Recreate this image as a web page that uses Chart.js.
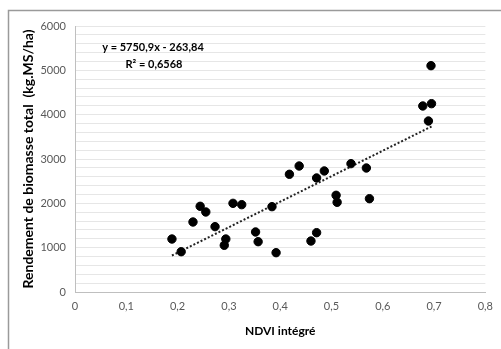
<!DOCTYPE html>
<html lang="fr">

<head>
    <meta charset="UTF-8">
    <title>NDVI intégré</title>
    <script src="https://cdnjs.cloudflare.com/ajax/libs/Chart.js/4.4.0/chart.umd.min.js"></script>
    <style>
        html, body {
            margin: 0;
            padding: 0;
            background: #ffffff;
        }

        .box {
            width: 501px;
            height: 349px;
        }
    </style>
</head>

<body>
    <div class="box">
        <canvas id="myChart" width="501" height="349"></canvas>
    </div>
    <script>
        // NDVI intégré (x) et rendement de biomasse (y)
        const ndvi = [0.189, 0.207, 0.230, 0.244, 0.255, 0.273, 0.291, 0.294, 0.308, 0.325,
            0.352, 0.357, 0.384, 0.392, 0.418, 0.437, 0.460, 0.471, 0.471, 0.486,
            0.509, 0.511, 0.538, 0.568, 0.574, 0.678, 0.689, 0.694, 0.695];
        const biomasse = [1195, 909, 1579, 1933, 1805, 1474, 1053, 1195, 2000, 1970,
            1354, 1135, 1925, 887, 2655, 2842, 1150, 1338, 2572, 2730,
            2181, 2023, 2895, 2797, 2105, 4196, 3857, 5105, 4248];

        // courbe de tendance (Excel)
        const pente = 5750.9;
        const ordonnee = -263.84;
        const equation = ['y = 5750,9x - 263,84', 'R² = 0,6568'];

        const xTickLabels = ['0', '0,1', '0,2', '0,3', '0,4', '0,5', '0,6', '0,7', '0,8'];
        const yTickLabels = ['0', '1000', '2000', '3000', '4000', '5000', '6000'];

        const xMin = Math.min(...ndvi);
        const xMax = Math.max(...ndvi);
        const tendance = [
            { x: xMin, y: pente * xMin + ordonnee },
            { x: xMax, y: pente * xMax + ordonnee }
        ];

        const font = 'Lato, "Open Sans", sans-serif';

        const cadre = {
            id: 'cadre',
            beforeDraw(chart) {
                const ctx = chart.ctx;
                ctx.save();
                ctx.fillStyle = '#ffffff';
                ctx.fillRect(0, 0, chart.width, chart.height);
                ctx.strokeStyle = '#9a9a9a';
                ctx.lineWidth = 1.5;
                ctx.strokeRect(8.5, 10.5, chart.width + 20, chart.height + 20);
                ctx.restore();
            },
            afterDatasetsDraw(chart) {
                const ctx = chart.ctx;
                const area = chart.chartArea;
                ctx.save();
                ctx.fillStyle = '#000000';
                ctx.font = 'bold 11px ' + font;
                ctx.textAlign = 'center';
                ctx.textBaseline = 'middle';
                ctx.fillText(equation[0], area.left + 78, area.top + 21);
                ctx.fillText(equation[1], area.left + 79, area.top + 38);
                ctx.restore();
            }
        };

        const ctx = document.getElementById('myChart').getContext('2d');
        const myChart = new Chart(ctx, {
            type: 'scatter',
            data: {
                datasets: [{
                    label: 'Rendement',
                    data: ndvi.map(function (v, i) {
                        return { x: v, y: biomasse[i] };
                    }),
                    backgroundColor: '#000000',
                    borderColor: '#000000',
                    pointRadius: 4.2,
                    pointHoverRadius: 4.2
                }, {
                    type: 'line',
                    label: 'Tendance',
                    data: tendance,
                    borderColor: '#222222',
                    borderWidth: 2,
                    borderDash: [2, 2],
                    pointRadius: 0,
                    fill: false
                }]
            },
            options: {
                responsive: false,
                animation: false,
                events: [],
                layout: {
                    padding: { left: 0, top: 26, right: 11, bottom: 0 }
                },
                plugins: {
                    legend: { display: false },
                    tooltip: { enabled: false }
                },
                scales: {
                    x: {
                        type: 'linear',
                        min: 0,
                        max: 0.8,
                        ticks: {
                            stepSize: 0.1,
                            color: '#595959',
                            font: { family: font, size: 11 },
                            padding: 8,
                            callback: function (value, index) {
                                return xTickLabels[index];
                            }
                        },
                        grid: { display: false, drawTicks: false },
                        border: { color: '#bfbfbf', width: 1 },
                        title: {
                            display: true,
                            text: 'NDVI intégré',
                            color: '#000000',
                            font: { family: font, size: 12, weight: 'bold' },
                            padding: { top: 0, bottom: 11 }
                        },
                        afterFit: function (scale) {
                            scale.height = 57;
                        }
                    },
                    y: {
                        min: 0,
                        max: 6000,
                        ticks: {
                            stepSize: 200,
                            autoSkip: false,
                            color: '#595959',
                            font: { family: font, size: 11 },
                            padding: 9,
                            callback: function (value) {
                                return value % 1000 === 0 ? yTickLabels[value / 1000] : '';
                            }
                        },
                        grid: { color: '#e6e6e6', drawTicks: false },
                        border: { color: '#bfbfbf', width: 1 },
                        title: {
                            display: true,
                            text: 'Rendement de biomasse total  (kg.MS/ha)',
                            color: '#000000',
                            font: { family: font, size: 14, weight: 'bold' },
                            padding: { top: 20, bottom: 0 }
                        },
                        afterFit: function (scale) {
                            scale.width = 75;
                        }
                    }
                }
            },
            plugins: [cadre]
        });
    </script>

</body>

</html>
